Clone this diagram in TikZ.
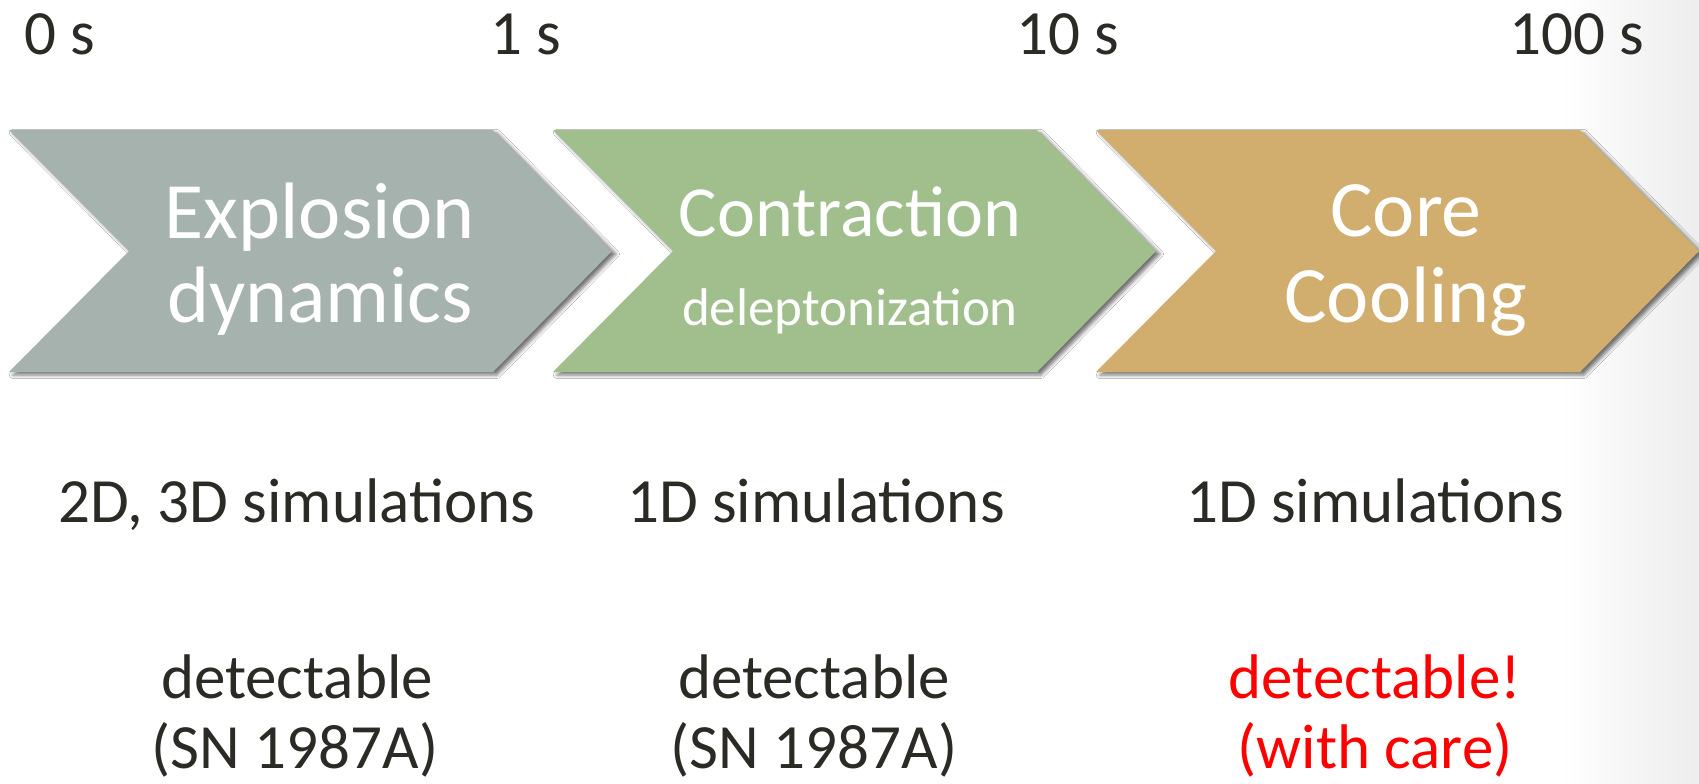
\documentclass[tikz,border=0pt]{standalone}
\usepackage{fontspec}
\setmainfont{Carlito}
\usetikzlibrary{shadows.blur}
\definecolor{cgray}{HTML}{A6B2AD}
\definecolor{cgreen}{HTML}{A0BF8C}
\definecolor{ctan}{HTML}{D1AD6E}
\definecolor{ink}{HTML}{2B2A25}
\newcommand\mychevron[2]{%
  \fill[#2, chevshadow] (#1,130) -- ++(484,0) -- ++(119,121) -- ++(-119,121) -- ++(-484,0) -- ++(120,-121) -- cycle;}
\begin{document}
\begin{tikzpicture}[x=0.5pt,y=-0.5pt,
  chevshadow/.style={blur shadow={shadow xshift=2pt,shadow yshift=-1.5pt,shadow blur radius=1.8pt,shadow opacity=55}},
  lbl/.style={inner sep=0pt, anchor=base, text=ink, font=\fontsize{31.5}{36}\selectfont},
  tlbl/.style={inner sep=0pt, anchor=base west, text=ink, font=\fontsize{31.5}{36}\selectfont},
  big/.style={inner sep=0pt, anchor=base, text=white, font=\fontsize{40}{46}\selectfont},
  mid/.style={inner sep=0pt, anchor=base, text=white, font=\fontsize{36}{42}\selectfont},
  small/.style={inner sep=0pt, anchor=base, text=white, font=\fontsize{26.5}{30}\selectfont},
  red/.style={lbl, text=red}]
\fill[white] (0,0) rectangle (1699,783);
\useasboundingbox (0,0) rectangle (1699,783);
\shade[left color=white, right color=black!7] (1560,0) rectangle (1699,783);
% time labels
\node[tlbl] (t0) at (24,54) {0 s};
\node[tlbl] (t1) at (490,54) {1 s};
\node[tlbl] (t10) at (1016,54) {10 s};
\node[tlbl] (t100) at (1509,54) {100 s};
% chevrons
\mychevron{9}{cgray}
\mychevron{553}{cgreen}
\mychevron{1096}{ctan}
% chevron texts
\node[big] (e1) at (320,238) {Explosion};
\node[big] (e2) at (320,322) {dynamics};
\node[mid] (c1) at (850,236) {Contraction};
\node[small] (c2) at (850,325) {deleptonization};
\node[big] (k1) at (1406,236) {Core};
\node[big] (k2) at (1406,322) {Cooling};
% simulations
\node[lbl] (s1) at (297,522) {2D, 3D simulations};
\node[lbl] (s2) at (816,522) {1D simulations};
\node[lbl] (s3) at (1375,522) {1D simulations};
% detectability
\node[lbl] (d1) at (297,698) {detectable};
\node[lbl] (d1b) at (295,768) {(SN 1987A)};
\node[lbl] (d2) at (814,698) {detectable};
\node[lbl] (d2b) at (814,768) {(SN 1987A)};
\node[red] (d3) at (1375,698) {detectable!};
\node[red] (d3b) at (1375,768) {(with care)};
\end{tikzpicture}
\end{document}
